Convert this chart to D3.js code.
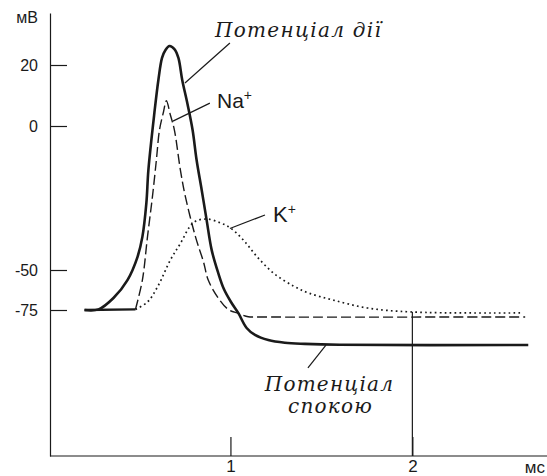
<!DOCTYPE html>
<html>
<head>
<meta charset="utf-8">
<script src="https://cdn.jsdelivr.net/npm/d3@7"></script>
<style>
  html, body { margin: 0; padding: 0; background: #fff; }
  svg { display: block; }
</style>
</head>
<body>
<svg id="chart" width="547" height="476"></svg>
<script>
// ---- data (time in ms, potential in mV) ----
const yTickValues = [20, 0, -50, -75];
const yTickLabels = ["20", "0", "-50", "-75"];
const xTickValues = [1, 2];
const xTickLabels = ["1", "2"];
const yUnit = "мВ";
const xUnit = "мс";

// action potential (solid thick)
const apT = [0.198, 0.275, 0.357, 0.434, 0.489, 0.516, 0.538, 0.549, 0.582, 0.604, 0.624, 0.643, 0.665, 0.692, 0.714, 0.735, 0.764, 0.792, 0.814, 0.842, 0.869, 0.897, 0.933, 0.964, 1.003, 1.043, 1.089, 1.135, 1.208, 1.299, 1.409, 1.60, 2.637];
const apV = [-75, -74.6, -67.5, -56.3, -45.5, -38.5, -26.7, -15.3, 4.3, 15.1, 22.3, 24.9, 26.2, 25.2, 22.3, 15.1, 7.2, -1.4, -11.8, -22.2, -32.6, -43.1, -51.9, -61.9, -70, -76.3, -83.0, -86.1, -88.4, -89.6, -90.1, -90.5, -90.6];

// common resting segment before Na+/K+ currents
const baseT = [0.198, 0.478];
const baseV = [-75, -74.6];

// Na+ (dashed)
const naT = [0.478, 0.516, 0.544, 0.571, 0.593, 0.610, 0.632, 0.648, 0.670, 0.692, 0.725, 0.753, 0.808, 0.852, 0.878, 0.933, 0.988, 1.043, 1.098, 1.150, 2.620];
const naV = [-74.6, -56.3, -38.5, -24.7, -11.8, -1.4, 4.6, 8.3, 3.6, -1.4, -15.3, -24.7, -38.5, -47.2, -56.3, -67.5, -74.6, -76.5, -78.0, -78.1, -78.1];

// K+ (dotted)
const kT = [0.478, 0.544, 0.599, 0.670, 0.723, 0.797, 0.870, 0.943, 1.000, 1.071, 1.148, 1.236, 1.346, 1.430, 1.563, 1.753, 2.0, 2.610];
const kV = [-74.6, -70, -60.6, -46.5, -41.0, -33.5, -32.3, -33.6, -35.4, -39.6, -45.5, -51.9, -60.0, -64.4, -68.75, -73.75, -75.9, -76.3];

// annotation labels and leader lines (in data units)
const labelAP = "Потенціал дії";
const labelNa = "Na";
const labelK = "K";
const labelRest = ["Потенціал", "спокою"];
const leaderAP = [[0.997, 27.2], [0.750, 14.1]];
const leaderNa = [[0.887, 7.5], [0.684, 1.6]];
const leaderK = [[1.190, -30.9], [0.997, -35.6]];
const leaderRest = [[1.426, -100.8], [1.525, -90.6]];

// ---- scales ----
const W = 547, H = 476;
const x = d3.scaleLinear().domain([0, 2.74]).range([48.5, 547]);
const y = d3.scaleLinear().domain([-140, -75, -50, 0, 20, 37]).range([456, 310, 270, 126, 65, 13]);

const svg = d3.select("#chart");
const ink = "#1a1a1a";
const sans = "'Liberation Sans', Arial, sans-serif";
const serif = "'DejaVu Serif', serif";

// ---- axes ----
const yAxis = d3.axisLeft(y)
  .tickValues(yTickValues)
  .tickFormat((d, i) => yTickLabels[i])
  .tickSizeInner(-17)
  .tickSizeOuter(0)
  .tickPadding(12);
const gy = svg.append("g").attr("transform", `translate(${x(0) + 1.5},0)`).call(yAxis);
gy.selectAll("text").attr("font-family", sans).attr("font-size", 16).attr("fill", ink);
gy.selectAll("line, path").attr("stroke", ink).attr("stroke-width", 1.2);

const xAxis = d3.axisBottom(x)
  .tickValues(xTickValues)
  .tickFormat((d, i) => xTickLabels[i])
  .tickSizeInner(-19)
  .tickSizeOuter(0)
  .tickPadding(4);
const gx = svg.append("g").attr("transform", `translate(0,${y(-140)})`).call(xAxis);
gx.select(".domain").attr("d", `M${x(0) + 1.5},0H${W}`);
gx.selectAll("text").attr("font-family", sans).attr("font-size", 17).attr("fill", ink);
gx.selectAll("line, path").attr("stroke", ink).attr("stroke-width", 1.2);

svg.append("text").text(yUnit)
  .attr("x", 38).attr("y", 23).attr("text-anchor", "end")
  .attr("font-family", sans).attr("font-size", 16).attr("fill", ink);
svg.append("text").text(xUnit)
  .attr("x", 545).attr("y", 473).attr("text-anchor", "end")
  .attr("font-family", sans).attr("font-size", 17).attr("fill", ink);

// drop line at t = 2 up to K+ curve
const kAt2 = kV[kT.indexOf(2.0)];
svg.append("line")
  .attr("x1", x(2)).attr("x2", x(2))
  .attr("y1", y(-140)).attr("y2", y(kAt2))
  .attr("stroke", ink).attr("stroke-width", 1.2);

// ---- curves ----
const line = d3.line().x(d => x(d[0])).y(d => y(d[1])).curve(d3.curveCatmullRom.alpha(0.5));
const zip = (a, b) => a.map((t, i) => [t, b[i]]);

svg.append("path").attr("d", line(zip(kT, kV)))
  .attr("fill", "none").attr("stroke", ink).attr("stroke-width", 1.7)
  .attr("stroke-dasharray", "1.7,3.2");

svg.append("path").attr("d", line(zip(naT, naV)))
  .attr("fill", "none").attr("stroke", ink).attr("stroke-width", 1.4)
  .attr("stroke-dasharray", "10,4");

svg.append("path").attr("d", line(zip(baseT, baseV)))
  .attr("fill", "none").attr("stroke", ink).attr("stroke-width", 2.4);

svg.append("path").attr("d", line(zip(apT, apV)))
  .attr("fill", "none").attr("stroke", ink).attr("stroke-width", 2.6)
  .attr("stroke-linejoin", "round");

// ---- annotations ----
function leader(p) {
  svg.append("line")
    .attr("x1", x(p[0][0])).attr("y1", y(p[0][1]))
    .attr("x2", x(p[1][0])).attr("y2", y(p[1][1]))
    .attr("stroke", ink).attr("stroke-width", 1.2);
}
[leaderAP, leaderNa, leaderK, leaderRest].forEach(leader);

svg.append("text").text(labelAP)
  .attr("x", x(0.915)).attr("y", y(29.2))
  .attr("font-family", serif).attr("font-style", "italic").attr("font-size", 20)
  .attr("fill", ink).attr("textLength", 166).attr("lengthAdjust", "spacing");

const tNa = svg.append("text").attr("x", x(0.926)).attr("y", y(5.9))
  .attr("font-family", sans).attr("font-size", 21).attr("fill", ink);
tNa.append("tspan").text(labelNa);
tNa.append("tspan").text("+").attr("font-size", 14).attr("dy", -8);

const tK = svg.append("text").attr("x", x(1.234)).attr("y", y(-33.3))
  .attr("font-family", sans).attr("font-size", 22).attr("fill", ink);
tK.append("tspan").text(labelK);
tK.append("tspan").text("+").attr("font-size", 14).attr("dy", -8);

svg.append("text").text(labelRest[0])
  .attr("x", x(1.541)).attr("y", y(-111.1)).attr("text-anchor", "middle")
  .attr("font-family", serif).attr("font-style", "italic").attr("font-size", 20)
  .attr("fill", ink).attr("textLength", 128).attr("lengthAdjust", "spacing");
svg.append("text").text(labelRest[1])
  .attr("x", x(1.547)).attr("y", y(-120.9)).attr("text-anchor", "middle")
  .attr("font-family", serif).attr("font-style", "italic").attr("font-size", 20)
  .attr("fill", ink).attr("textLength", 84).attr("lengthAdjust", "spacing");
</script>
</body>
</html>
